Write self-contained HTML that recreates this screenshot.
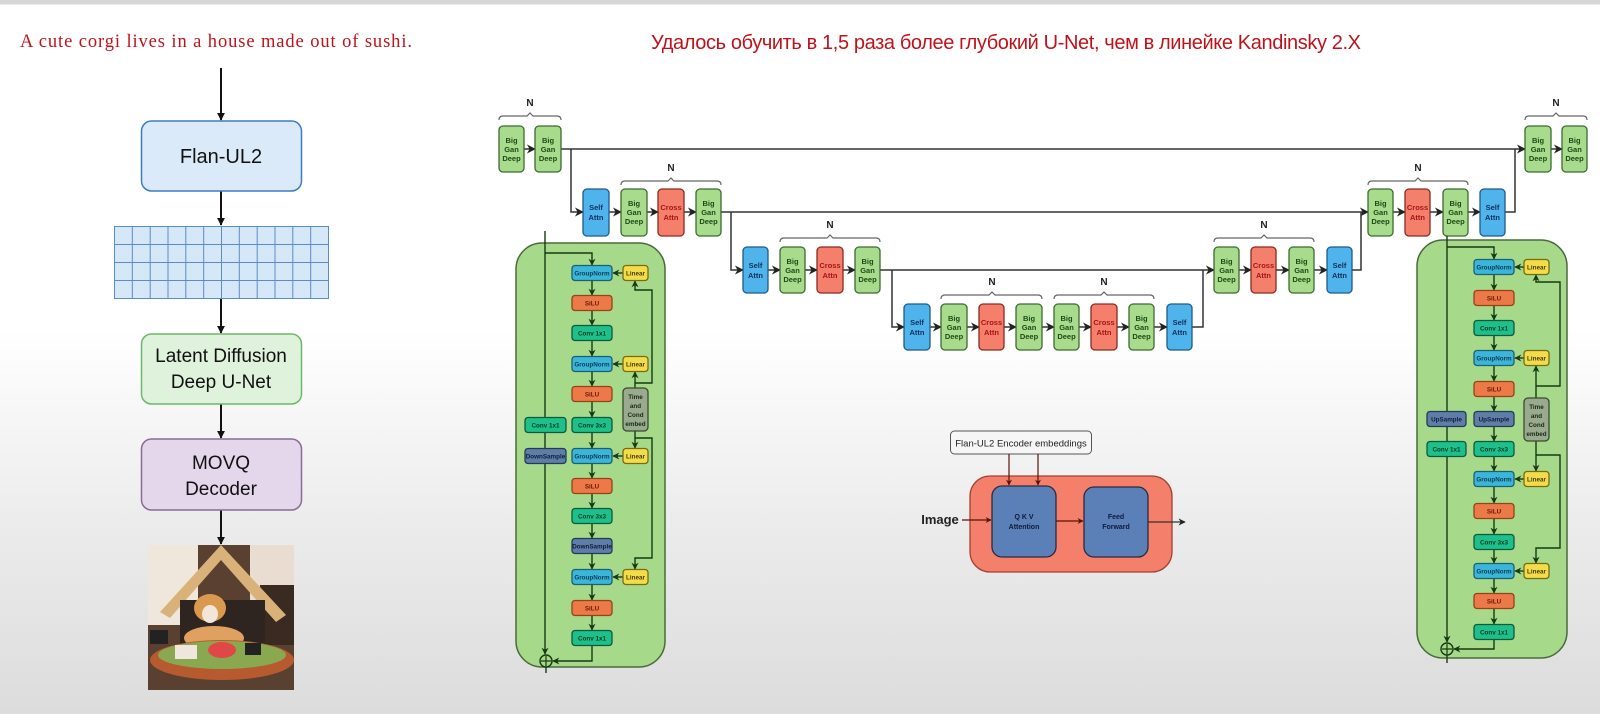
<!DOCTYPE html>
<html><head><meta charset="utf-8"><style>
html,body{margin:0;padding:0;width:1600px;height:714px;overflow:hidden;}
body{background:linear-gradient(to bottom,#d6d6d6 0px,#d6d6d6 4px,#ffffff 5px,#ffffff 330px,#ececec 520px,#dcdcdc 714px);}
svg{position:absolute;left:0;top:0;}
.b{font-family:"Liberation Sans",sans-serif;font-weight:bold;text-anchor:middle;}
</style></head><body>
<svg width="1600" height="714" viewBox="0 0 1600 714" xmlns="http://www.w3.org/2000/svg">
<defs>
<marker id="a" viewBox="0 0 10 10" refX="9" refY="5" markerWidth="6" markerHeight="6" orient="auto-start-reverse"><path d="M0,0 L10,5 L0,10 L3,5 Z" fill="#222"/></marker>
<marker id="A" viewBox="0 0 10 10" refX="9" refY="5" markerWidth="4" markerHeight="4" orient="auto"><path d="M0,0 L10,5 L0,10 Z" fill="#111"/></marker>
<marker id="g" viewBox="0 0 10 10" refX="9" refY="5" markerWidth="5" markerHeight="5" orient="auto"><path d="M0,0 L10,5 L0,10 L3,5 Z" fill="#173a12"/></marker>
<marker id="r" viewBox="0 0 10 10" refX="9" refY="5" markerWidth="5" markerHeight="5" orient="auto"><path d="M0,0 L10,5 L0,10 L3,5 Z" fill="#5a1208"/></marker>
</defs>

<!-- titles -->
<text x="20" y="47" font-family="Liberation Serif,serif" font-size="18.5" fill="#c0121a" textLength="392">A cute corgi lives in a house made out of sushi.</text>
<text x="651" y="49" font-family="Liberation Sans,sans-serif" font-size="20" fill="#c0121a" textLength="710">Удалось обучить в 1,5 раза более глубокий U-Net, чем в линейке Kandinsky 2.X</text>

<!-- left pipeline -->
<g stroke="#111" stroke-width="2" fill="none" marker-end="url(#A)">
<line x1="221" y1="68" x2="221" y2="120"/>
<line x1="221" y1="191" x2="221" y2="225"/>
<line x1="221" y1="299" x2="221" y2="333"/>
<line x1="221" y1="404" x2="221" y2="438"/>
<line x1="221" y1="510" x2="221" y2="544"/>
</g>
<rect x="141.5" y="121" width="160" height="70" rx="10" fill="#dbeaf9" stroke="#3b7cc0" stroke-width="1.5"/>
<text x="221" y="163" font-family="Liberation Sans,sans-serif" font-size="20" text-anchor="middle" fill="#111">Flan-UL2</text>
<g fill="#d6e8f8" stroke="#5a8cc8" stroke-width="1">
<rect x="114.5" y="226.5" width="214" height="72"/>
</g>
<g stroke="#5a8cc8" stroke-width="1">
<line x1="132.3" y1="226" x2="132.3" y2="299"/><line x1="150.2" y1="226" x2="150.2" y2="299"/><line x1="168" y1="226" x2="168" y2="299"/><line x1="185.8" y1="226" x2="185.8" y2="299"/><line x1="203.7" y1="226" x2="203.7" y2="299"/><line x1="221.5" y1="226" x2="221.5" y2="299"/><line x1="239.3" y1="226" x2="239.3" y2="299"/><line x1="257.2" y1="226" x2="257.2" y2="299"/><line x1="275" y1="226" x2="275" y2="299"/><line x1="292.8" y1="226" x2="292.8" y2="299"/><line x1="310.7" y1="226" x2="310.7" y2="299"/>
<line x1="114" y1="244.5" x2="329" y2="244.5"/><line x1="114" y1="262.5" x2="329" y2="262.5"/><line x1="114" y1="280.5" x2="329" y2="280.5"/>
</g>
<rect x="141.5" y="334" width="160" height="70" rx="10" fill="#dff2dc" stroke="#6cb86a" stroke-width="1.5"/>
<text x="221" y="362" font-family="Liberation Sans,sans-serif" font-size="19" text-anchor="middle" fill="#111">Latent Diffusion</text>
<text x="221" y="388" font-family="Liberation Sans,sans-serif" font-size="19" text-anchor="middle" fill="#111">Deep U-Net</text>
<rect x="141.5" y="439" width="160" height="71" rx="10" fill="#e5d7eb" stroke="#8a6a96" stroke-width="1.5"/>
<text x="221" y="469" font-family="Liberation Sans,sans-serif" font-size="19" text-anchor="middle" fill="#111">MOVQ</text>
<text x="221" y="495" font-family="Liberation Sans,sans-serif" font-size="19" text-anchor="middle" fill="#111">Decoder</text>

<!-- corgi picture approximation -->
<g>
<rect x="148" y="545" width="146" height="145" fill="#5a4030"/>
<rect x="148" y="545" width="50" height="80" fill="#efe7dc"/>
<rect x="250" y="545" width="44" height="60" fill="#e8ddd0"/>
<rect x="260" y="585" width="34" height="60" fill="#3a2a22"/>
<polygon points="221,545 160,612 170,618 221,560 276,622 286,615" fill="#d9b27a"/>
<rect x="180" y="600" width="85" height="50" fill="#2e2520"/>
<ellipse cx="210" cy="608" rx="16" ry="14" fill="#d99a50"/>
<ellipse cx="210" cy="614" rx="8" ry="9" fill="#f2e6d8"/>
<ellipse cx="214" cy="638" rx="30" ry="12" fill="#e0a060"/>
<ellipse cx="222" cy="660" rx="72" ry="20" fill="#b85a30"/>
<ellipse cx="222" cy="655" rx="64" ry="14" fill="#8aa850"/>
<rect x="175" y="645" width="22" height="14" fill="#f0e6e0"/>
<ellipse cx="222" cy="650" rx="14" ry="8" fill="#e04848"/>
<rect x="245" y="643" width="16" height="12" fill="#222"/>
<rect x="150" y="630" width="18" height="14" fill="#222"/>
</g>

<!-- U-Net connectors -->
<g stroke="#333" stroke-width="1.5" fill="none">
<line x1="524" y1="149" x2="535" y2="149" marker-end="url(#a)"/>
<line x1="561" y1="149" x2="1525" y2="149" marker-end="url(#a)"/>
<path d="M571,149 V212 H583" marker-end="url(#a)"/>
<line x1="609" y1="212" x2="621" y2="212" marker-end="url(#a)"/>
<line x1="647" y1="212" x2="658" y2="212" marker-end="url(#a)"/>
<line x1="684" y1="212" x2="696" y2="212" marker-end="url(#a)"/>
<line x1="721" y1="212" x2="1368" y2="212" marker-end="url(#a)"/>
<path d="M731,212 V270 H743" marker-end="url(#a)"/>
<line x1="768" y1="270" x2="780" y2="270" marker-end="url(#a)"/>
<line x1="805" y1="270" x2="817" y2="270" marker-end="url(#a)"/>
<line x1="843" y1="270" x2="855" y2="270" marker-end="url(#a)"/>
<line x1="880" y1="270" x2="1214" y2="270" marker-end="url(#a)"/>
<path d="M892,270 V327 H904" marker-end="url(#a)"/>
<line x1="930" y1="327" x2="941" y2="327" marker-end="url(#a)"/>
<line x1="967" y1="327" x2="979" y2="327" marker-end="url(#a)"/>
<line x1="1004" y1="327" x2="1016" y2="327" marker-end="url(#a)"/>
<line x1="1042" y1="327" x2="1054" y2="327" marker-end="url(#a)"/>
<line x1="1079" y1="327" x2="1091" y2="327" marker-end="url(#a)"/>
<line x1="1117" y1="327" x2="1129" y2="327" marker-end="url(#a)"/>
<line x1="1154" y1="327" x2="1167" y2="327" marker-end="url(#a)"/>
<path d="M1192,327 H1203 V270"/>
<line x1="1239" y1="270" x2="1251" y2="270" marker-end="url(#a)"/>
<line x1="1276" y1="270" x2="1289" y2="270" marker-end="url(#a)"/>
<line x1="1314" y1="270" x2="1327" y2="270" marker-end="url(#a)"/>
<path d="M1352,270 H1361 V212"/>
<line x1="1393" y1="212" x2="1405" y2="212" marker-end="url(#a)"/>
<line x1="1430" y1="212" x2="1443" y2="212" marker-end="url(#a)"/>
<line x1="1468" y1="212" x2="1480" y2="212" marker-end="url(#a)"/>
<path d="M1505,212 H1515 V149"/>
<line x1="1551" y1="149" x2="1562" y2="149" marker-end="url(#a)"/>
</g>

<!-- braces -->
<g stroke="#666" stroke-width="1.2" fill="none">
<path d="M499,120 Q499,116 503,116 H527 L530,113 L533,116 H557 Q561,116 561,120"/>
<path d="M621,185 Q621,181 625,181 H668 L671,178 L674,181 H717 Q721,181 721,185"/>
<path d="M780,242 Q780,238 784,238 H827 L830,235 L833,238 H876 Q880,238 880,242"/>
<path d="M941,299 Q941,295 945,295 H989 L992,292 L995,295 H1038 Q1042,295 1042,299"/>
<path d="M1054,299 Q1054,295 1058,295 H1101 L1104,292 L1107,295 H1150 Q1154,295 1154,299"/>
<path d="M1214,242 Q1214,238 1218,238 H1261 L1264,235 L1267,238 H1310 Q1314,238 1314,242"/>
<path d="M1368,185 Q1368,181 1372,181 H1415 L1418,178 L1421,181 H1464 Q1468,181 1468,185"/>
<path d="M1525,120 Q1525,116 1529,116 H1553 L1556,113 L1559,116 H1583 Q1587,116 1587,120"/>
</g>
<g class="b" font-size="10" fill="#222">
<text x="530" y="106">N</text><text x="671" y="171">N</text><text x="830" y="228">N</text>
<text x="992" y="285">N</text><text x="1104" y="285">N</text><text x="1264" y="228">N</text>
<text x="1418" y="171">N</text><text x="1556" y="106">N</text>
</g>

<!-- Big Gan Deep blocks -->
<g fill="#a8dc8c" stroke="#3c6a30" stroke-width="1.3">
<rect x="499" y="126" width="25" height="46" rx="4"/><rect x="535" y="126" width="26" height="46" rx="4"/>
<rect x="1525" y="126" width="26" height="46" rx="4"/><rect x="1562" y="126" width="25" height="46" rx="4"/>
<rect x="621" y="189" width="26" height="47" rx="4"/><rect x="696" y="189" width="25" height="47" rx="4"/>
<rect x="1368" y="189" width="25" height="47" rx="4"/><rect x="1443" y="189" width="25" height="47" rx="4"/>
<rect x="780" y="247" width="25" height="46" rx="4"/><rect x="855" y="247" width="25" height="46" rx="4"/>
<rect x="1214" y="247" width="25" height="46" rx="4"/><rect x="1289" y="247" width="25" height="46" rx="4"/>
<rect x="941" y="304" width="26" height="46" rx="4"/><rect x="1016" y="304" width="26" height="46" rx="4"/>
<rect x="1054" y="304" width="25" height="46" rx="4"/><rect x="1129" y="304" width="25" height="46" rx="4"/>
</g>
<g fill="#4fb3ec" stroke="#1e5a8a" stroke-width="1.3">
<rect x="583" y="189" width="26" height="47" rx="4"/><rect x="1480" y="189" width="25" height="47" rx="4"/>
<rect x="743" y="247" width="25" height="46" rx="4"/><rect x="1327" y="247" width="25" height="46" rx="4"/>
<rect x="904" y="304" width="26" height="46" rx="4"/><rect x="1167" y="304" width="25" height="46" rx="4"/>
</g>
<g fill="#f47f6a" stroke="#8a2a20" stroke-width="1.3">
<rect x="658" y="189" width="26" height="47" rx="4"/><rect x="1405" y="189" width="25" height="47" rx="4"/>
<rect x="817" y="247" width="26" height="46" rx="4"/><rect x="1251" y="247" width="25" height="46" rx="4"/>
<rect x="979" y="304" width="25" height="46" rx="4"/><rect x="1091" y="304" width="26" height="46" rx="4"/>
</g>
<g class="b" font-size="7.5" fill="#1e4a18">
<text x="511.5" y="143">Big</text><text x="511.5" y="152">Gan</text><text x="511.5" y="161">Deep</text>
<text x="548" y="143">Big</text><text x="548" y="152">Gan</text><text x="548" y="161">Deep</text>
<text x="1538" y="143">Big</text><text x="1538" y="152">Gan</text><text x="1538" y="161">Deep</text>
<text x="1574.5" y="143">Big</text><text x="1574.5" y="152">Gan</text><text x="1574.5" y="161">Deep</text>
<text x="634" y="206">Big</text><text x="634" y="215">Gan</text><text x="634" y="224">Deep</text>
<text x="708.5" y="206">Big</text><text x="708.5" y="215">Gan</text><text x="708.5" y="224">Deep</text>
<text x="1380.5" y="206">Big</text><text x="1380.5" y="215">Gan</text><text x="1380.5" y="224">Deep</text>
<text x="1455.5" y="206">Big</text><text x="1455.5" y="215">Gan</text><text x="1455.5" y="224">Deep</text>
<text x="792.5" y="264">Big</text><text x="792.5" y="273">Gan</text><text x="792.5" y="282">Deep</text>
<text x="867.5" y="264">Big</text><text x="867.5" y="273">Gan</text><text x="867.5" y="282">Deep</text>
<text x="1226.5" y="264">Big</text><text x="1226.5" y="273">Gan</text><text x="1226.5" y="282">Deep</text>
<text x="1301.5" y="264">Big</text><text x="1301.5" y="273">Gan</text><text x="1301.5" y="282">Deep</text>
<text x="954" y="321">Big</text><text x="954" y="330">Gan</text><text x="954" y="339">Deep</text>
<text x="1029" y="321">Big</text><text x="1029" y="330">Gan</text><text x="1029" y="339">Deep</text>
<text x="1066.5" y="321">Big</text><text x="1066.5" y="330">Gan</text><text x="1066.5" y="339">Deep</text>
<text x="1141.5" y="321">Big</text><text x="1141.5" y="330">Gan</text><text x="1141.5" y="339">Deep</text>
</g>
<g class="b" font-size="7.5" fill="#12305a">
<text x="596" y="210">Self</text><text x="596" y="220">Attn</text>
<text x="1492.5" y="210">Self</text><text x="1492.5" y="220">Attn</text>
<text x="755.5" y="268">Self</text><text x="755.5" y="278">Attn</text>
<text x="1339.5" y="268">Self</text><text x="1339.5" y="278">Attn</text>
<text x="917" y="325">Self</text><text x="917" y="335">Attn</text>
<text x="1179.5" y="325">Self</text><text x="1179.5" y="335">Attn</text>
</g>
<g class="b" font-size="7.5" fill="#a8141a">
<text x="671" y="210">Cross</text><text x="671" y="220">Attn</text>
<text x="1417.5" y="210">Cross</text><text x="1417.5" y="220">Attn</text>
<text x="830" y="268">Cross</text><text x="830" y="278">Attn</text>
<text x="1263.5" y="268">Cross</text><text x="1263.5" y="278">Attn</text>
<text x="991.5" y="325">Cross</text><text x="991.5" y="335">Attn</text>
<text x="1104" y="325">Cross</text><text x="1104" y="335">Attn</text>
</g>

<!-- LEFT resblock -->
<rect x="516" y="243" width="149" height="424" rx="26" fill="#a6d98a" stroke="#4a6a3a" stroke-width="1.5"/>
<g stroke="#173a12" stroke-width="1.4" fill="none">
<line x1="545" y1="231" x2="545" y2="654" marker-end="url(#g)"/>
<path d="M545,253 H592 V265" marker-end="url(#g)"/>
<line x1="592" y1="281" x2="592" y2="295" marker-end="url(#g)"/>
<line x1="592" y1="311" x2="592" y2="325" marker-end="url(#g)"/>
<line x1="592" y1="341" x2="592" y2="356" marker-end="url(#g)"/>
<line x1="592" y1="372" x2="592" y2="386" marker-end="url(#g)"/>
<line x1="592" y1="402" x2="592" y2="417" marker-end="url(#g)"/>
<line x1="592" y1="433" x2="592" y2="448" marker-end="url(#g)"/>
<line x1="592" y1="464" x2="592" y2="478" marker-end="url(#g)"/>
<line x1="592" y1="494" x2="592" y2="508" marker-end="url(#g)"/>
<line x1="592" y1="524" x2="592" y2="538" marker-end="url(#g)"/>
<line x1="592" y1="554" x2="592" y2="569" marker-end="url(#g)"/>
<line x1="592" y1="585" x2="592" y2="600" marker-end="url(#g)"/>
<line x1="592" y1="616" x2="592" y2="630" marker-end="url(#g)"/>
<path d="M592,646 V661 H553" marker-end="url(#g)"/>
<line x1="623" y1="273" x2="613" y2="273" marker-end="url(#g)"/>
<line x1="623" y1="364" x2="613" y2="364" marker-end="url(#g)"/>
<line x1="623" y1="456" x2="613" y2="456" marker-end="url(#g)"/>
<line x1="623" y1="577" x2="613" y2="577" marker-end="url(#g)"/>
<line x1="635" y1="388" x2="635" y2="372" marker-end="url(#g)"/>
<path d="M635,383 H652 V290 H635 V281" marker-end="url(#g)"/>
<line x1="635" y1="431" x2="635" y2="448" marker-end="url(#g)"/>
<path d="M635,438 H652 V558 H635 V569" marker-end="url(#g)"/>
<line x1="546" y1="667" x2="546" y2="673"/>
</g>
<circle cx="546" cy="661" r="6" fill="#a6d98a" stroke="#173a12" stroke-width="1.4"/>
<path d="M546,656 V666 M541,661 H551" stroke="#173a12" stroke-width="1.2"/>
<g stroke-width="1.3">
<g fill="#3bb6d8" stroke="#1d5f72">
<rect x="572" y="265.5" width="40" height="15" rx="3"/><rect x="572" y="356.5" width="40" height="15" rx="3"/><rect x="572" y="448.5" width="40" height="15" rx="3"/><rect x="572" y="569.5" width="40" height="15" rx="3"/>
</g>
<g fill="#ec7a48" stroke="#9a4018">
<rect x="572" y="295.5" width="40" height="15" rx="3"/><rect x="572" y="386.5" width="40" height="15" rx="3"/><rect x="572" y="478.5" width="40" height="15" rx="3"/><rect x="572" y="600.5" width="40" height="15" rx="3"/>
</g>
<g fill="#1dbf8a" stroke="#0e5a3e">
<rect x="572" y="325.5" width="40" height="15" rx="3"/><rect x="572" y="417.5" width="40" height="15" rx="3"/><rect x="572" y="508.5" width="40" height="15" rx="3"/><rect x="572" y="630.5" width="40" height="15" rx="3"/><rect x="525" y="417.5" width="41" height="15" rx="3"/>
</g>
<g fill="#5e7ea8" stroke="#253a5a">
<rect x="572" y="538.5" width="40" height="15" rx="3"/><rect x="525" y="448.5" width="41" height="15" rx="3"/>
</g>
<g fill="#f3dc4a" stroke="#7a6a10">
<rect x="623" y="265.5" width="25" height="15" rx="3"/><rect x="623" y="356.5" width="25" height="15" rx="3"/><rect x="623" y="448.5" width="25" height="15" rx="3"/><rect x="623" y="569.5" width="25" height="15" rx="3"/>
</g>
<rect x="623" y="388" width="25" height="43" rx="4" fill="#9aaa8e" stroke="#3a4a30"/>
</g>
<g class="b" font-size="6.3">
<g fill="#0e3a5a"><text x="592" y="275.5">GroupNorm</text><text x="592" y="366.5">GroupNorm</text><text x="592" y="458.5">GroupNorm</text><text x="592" y="579.5">GroupNorm</text></g>
<g fill="#6a1a08"><text x="592" y="305.5">SiLU</text><text x="592" y="396.5">SiLU</text><text x="592" y="488.5">SiLU</text><text x="592" y="610.5">SiLU</text></g>
<g fill="#063a22"><text x="592" y="335.5">Conv 1x1</text><text x="592" y="427.5">Conv 3x3</text><text x="592" y="518.5">Conv 3x3</text><text x="592" y="640.5">Conv 1x1</text><text x="545.5" y="427.5">Conv 1x1</text></g>
<g fill="#101c38"><text x="592" y="548.5">DownSample</text><text x="545.5" y="458.5">DownSample</text></g>
<g fill="#4a3a00"><text x="635.5" y="275.5">Linear</text><text x="635.5" y="366.5">Linear</text><text x="635.5" y="458.5">Linear</text><text x="635.5" y="579.5">Linear</text></g>
<g fill="#1a2a14"><text x="635.5" y="399">Time</text><text x="635.5" y="408">and</text><text x="635.5" y="417">Cond</text><text x="635.5" y="426">embed</text></g>
</g>

<!-- RIGHT resblock -->
<rect x="1417" y="240" width="150" height="418" rx="26" fill="#a6d98a" stroke="#4a6a3a" stroke-width="1.5"/>
<g stroke="#173a12" stroke-width="1.4" fill="none">
<line x1="1447" y1="236" x2="1447" y2="642" marker-end="url(#g)"/>
<path d="M1447,247 H1494 V259" marker-end="url(#g)"/>
<line x1="1494" y1="275" x2="1494" y2="290" marker-end="url(#g)"/>
<line x1="1494" y1="306" x2="1494" y2="320" marker-end="url(#g)"/>
<line x1="1494" y1="336" x2="1494" y2="350" marker-end="url(#g)"/>
<line x1="1494" y1="366" x2="1494" y2="381" marker-end="url(#g)"/>
<line x1="1494" y1="397" x2="1494" y2="411" marker-end="url(#g)"/>
<line x1="1494" y1="427" x2="1494" y2="441" marker-end="url(#g)"/>
<line x1="1494" y1="457" x2="1494" y2="471" marker-end="url(#g)"/>
<line x1="1494" y1="487" x2="1494" y2="503" marker-end="url(#g)"/>
<line x1="1494" y1="519" x2="1494" y2="534" marker-end="url(#g)"/>
<line x1="1494" y1="550" x2="1494" y2="563" marker-end="url(#g)"/>
<line x1="1494" y1="579" x2="1494" y2="593" marker-end="url(#g)"/>
<line x1="1494" y1="609" x2="1494" y2="624" marker-end="url(#g)"/>
<path d="M1494,640 V649 H1454" marker-end="url(#g)"/>
<line x1="1524" y1="267" x2="1515" y2="267" marker-end="url(#g)"/>
<line x1="1524" y1="358" x2="1515" y2="358" marker-end="url(#g)"/>
<line x1="1524" y1="479" x2="1515" y2="479" marker-end="url(#g)"/>
<line x1="1524" y1="571" x2="1515" y2="571" marker-end="url(#g)"/>
<line x1="1536" y1="398" x2="1536" y2="366" marker-end="url(#g)"/>
<path d="M1536,386 H1560 V282 H1536 V275" marker-end="url(#g)"/>
<line x1="1536" y1="441" x2="1536" y2="471" marker-end="url(#g)"/>
<path d="M1536,455 H1560 V548 H1536 V563" marker-end="url(#g)"/>
<line x1="1447" y1="655" x2="1447" y2="663"/>
</g>
<circle cx="1447" cy="649" r="6" fill="#a6d98a" stroke="#173a12" stroke-width="1.4"/>
<path d="M1447,644 V654 M1442,649 H1452" stroke="#173a12" stroke-width="1.2"/>
<g stroke-width="1.3">
<g fill="#3bb6d8" stroke="#1d5f72">
<rect x="1474" y="259.5" width="40" height="15" rx="3"/><rect x="1474" y="350.5" width="40" height="15" rx="3"/><rect x="1474" y="471.5" width="40" height="15" rx="3"/><rect x="1474" y="563.5" width="40" height="15" rx="3"/>
</g>
<g fill="#ec7a48" stroke="#9a4018">
<rect x="1474" y="290.5" width="40" height="15" rx="3"/><rect x="1474" y="381.5" width="40" height="15" rx="3"/><rect x="1474" y="503.5" width="40" height="15" rx="3"/><rect x="1474" y="593.5" width="40" height="15" rx="3"/>
</g>
<g fill="#1dbf8a" stroke="#0e5a3e">
<rect x="1474" y="320.5" width="40" height="15" rx="3"/><rect x="1474" y="441.5" width="40" height="15" rx="3"/><rect x="1474" y="534.5" width="40" height="15" rx="3"/><rect x="1474" y="624.5" width="40" height="15" rx="3"/><rect x="1427" y="441.5" width="39" height="15" rx="3"/>
</g>
<g fill="#5e7ea8" stroke="#253a5a">
<rect x="1474" y="411.5" width="40" height="15" rx="3"/><rect x="1427" y="411.5" width="39" height="15" rx="3"/>
</g>
<g fill="#f3dc4a" stroke="#7a6a10">
<rect x="1524" y="259.5" width="25" height="15" rx="3"/><rect x="1524" y="350.5" width="25" height="15" rx="3"/><rect x="1524" y="471.5" width="25" height="15" rx="3"/><rect x="1524" y="563.5" width="25" height="15" rx="3"/>
</g>
<rect x="1524" y="398" width="25" height="43" rx="4" fill="#9aaa8e" stroke="#3a4a30"/>
</g>
<g class="b" font-size="6.3">
<g fill="#0e3a5a"><text x="1494" y="269.5">GroupNorm</text><text x="1494" y="360.5">GroupNorm</text><text x="1494" y="481.5">GroupNorm</text><text x="1494" y="573.5">GroupNorm</text></g>
<g fill="#6a1a08"><text x="1494" y="300.5">SiLU</text><text x="1494" y="391.5">SiLU</text><text x="1494" y="513.5">SiLU</text><text x="1494" y="603.5">SiLU</text></g>
<g fill="#063a22"><text x="1494" y="330.5">Conv 1x1</text><text x="1494" y="451.5">Conv 3x3</text><text x="1494" y="544.5">Conv 3x3</text><text x="1494" y="634.5">Conv 1x1</text><text x="1446.5" y="451.5">Conv 1x1</text></g>
<g fill="#101c38"><text x="1494" y="421.5">UpSample</text><text x="1446.5" y="421.5">UpSample</text></g>
<g fill="#4a3a00"><text x="1536.5" y="269.5">Linear</text><text x="1536.5" y="360.5">Linear</text><text x="1536.5" y="481.5">Linear</text><text x="1536.5" y="573.5">Linear</text></g>
<g fill="#1a2a14"><text x="1536.5" y="409">Time</text><text x="1536.5" y="418">and</text><text x="1536.5" y="427">Cond</text><text x="1536.5" y="436">embed</text></g>
</g>

<!-- cross-attention block -->
<rect x="950.5" y="431" width="141" height="23" rx="4" fill="#f6f6f6" stroke="#555" stroke-width="1"/>
<text x="1021" y="446.5" font-family="Liberation Sans,sans-serif" font-size="9.5" text-anchor="middle" fill="#222">Flan-UL2 Encoder embeddings</text>
<rect x="970" y="476" width="202" height="96" rx="20" fill="#f47f6a" stroke="#a04030" stroke-width="1.3"/>
<rect x="992" y="486" width="64" height="71" rx="10" fill="#5b80b8" stroke="#2a2a40" stroke-width="1.3"/>
<rect x="1084" y="487" width="64" height="70" rx="10" fill="#5b80b8" stroke="#2a2a40" stroke-width="1.3"/>
<g stroke="#5a1208" stroke-width="1.2" fill="none">
<line x1="1009" y1="454" x2="1009" y2="485" marker-end="url(#r)"/>
<line x1="1038" y1="454" x2="1038" y2="485" marker-end="url(#r)"/>
<line x1="962" y1="520" x2="991" y2="520" marker-end="url(#r)"/>
<line x1="1056" y1="521" x2="1083" y2="521" marker-end="url(#r)"/>
<line x1="1148" y1="522" x2="1185" y2="522" marker-end="url(#a)" stroke="#333"/>
</g>
<text x="940" y="524" font-family="Liberation Sans,sans-serif" font-weight="bold" font-size="13" text-anchor="middle" fill="#222">Image</text>
<g class="b" font-size="7" fill="#0e1a3a">
<text x="1024" y="519">Q K V</text><text x="1024" y="529">Attention</text>
<text x="1116" y="519">Feed</text><text x="1116" y="529">Forward</text>
</g>
</svg>
</body></html>
